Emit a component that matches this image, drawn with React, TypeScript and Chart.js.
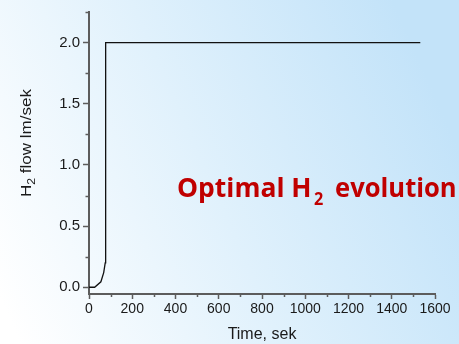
import React, { useEffect, useRef } from 'react';
import { Chart, registerables } from 'chart.js';

Chart.register(...registerables);

// ---- data ----
const timeSec = [0, 26, 55, 68, 75, 77, 1532];
const h2Flow = [0, 0, 0.045, 0.12, 0.2, 2.0, 2.0];

const xMajorTicks = [0, 200, 400, 600, 800, 1000, 1200, 1400, 1600];
const xMinorTicks = [100, 300, 500, 700, 900, 1100, 1300, 1500];
const yMajorTicks = [0, 0.5, 1.0, 1.5, 2.0];
const yMinorTicks = [0.25, 0.75, 1.25, 1.75, 2.25];

const X_MIN = 0;
const X_MAX = 1600;
const Y_MIN = -0.055;
const Y_MAX = 2.25;

const xTitle = 'Time, sek';
const yTitleParts = ['H', '2', ' flow lm/sek'];
const noteParts = ['Optimal H', '2', 'evolution'];

const AXIS = '#5c5c5c';
const TEXT = '#1a1a1a';
const NOTE = '#c00000';
const SANS = '"Liberation Sans", Arial, sans-serif';
const NOTE_FONT = '"Open Sans", "Noto Sans", sans-serif';

const isIn = (arr: number[], v: number) => arr.some((a) => Math.abs(a - v) < 1e-6);

function drawFitted(ctx: CanvasRenderingContext2D, text: string, left: number, right: number, baseline: number, font: string) {
  ctx.font = font;
  const m = ctx.measureText(text);
  const w = m.actualBoundingBoxLeft + m.actualBoundingBoxRight;
  const sx = (right - left) / w;
  ctx.save();
  ctx.translate(left, baseline);
  ctx.scale(sx, 1);
  ctx.textAlign = 'left';
  ctx.textBaseline = 'alphabetic';
  ctx.fillText(text, m.actualBoundingBoxLeft, 0);
  ctx.restore();
}

const backgroundPlugin = {
  id: 'bg',
  beforeDraw(chart: any) {
    const { ctx, width, height } = chart;
    const g = ctx.createLinearGradient(20, height, width, 150);
    g.addColorStop(0, '#ffffff');
    g.addColorStop(0.5, '#e0f1fc');
    g.addColorStop(1, '#c3e3f9');
    ctx.save();
    ctx.fillStyle = g;
    ctx.fillRect(0, 0, width, height);
    ctx.restore();
  },
};

const extrasPlugin = {
  id: 'extras',
  afterDraw(chart: any) {
    const ctx: CanvasRenderingContext2D = chart.ctx;
    const xs = chart.scales.x;
    const ys = chart.scales.y;
    const { left, bottom } = chart.chartArea;
    ctx.save();
    ctx.strokeStyle = AXIS;
    ctx.lineWidth = 1.5;
    ctx.beginPath();
    xMinorTicks.forEach((v) => {
      const px = Math.round(xs.getPixelForValue(v)) + 0.5;
      ctx.moveTo(px, bottom);
      ctx.lineTo(px, bottom + 3);
    });
    yMinorTicks.forEach((v) => {
      const py = Math.round(ys.getPixelForValue(v)) + 0.5;
      ctx.moveTo(left - 3.5, py);
      ctx.lineTo(left, py);
    });
    ctx.stroke();
    ctx.restore();

    // y axis title (rotated, with subscript)
    ctx.save();
    ctx.fillStyle = TEXT;
    ctx.translate(31, 197);
    ctx.rotate(-Math.PI / 2);
    const mainFont = `14px ${SANS}`;
    const subFont = `10px ${SANS}`;
    ctx.font = mainFont;
    const w0 = ctx.measureText(yTitleParts[0]).width;
    ctx.font = subFont;
    const w1 = ctx.measureText(yTitleParts[1]).width;
    ctx.font = mainFont;
    const w2 = ctx.measureText(yTitleParts[2]).width;
    const sx = 108 / (w0 + w1 + w2);
    ctx.scale(sx, 1);
    ctx.textAlign = 'left';
    ctx.textBaseline = 'alphabetic';
    ctx.font = mainFont;
    ctx.fillText(yTitleParts[0], 0, 0);
    ctx.font = subFont;
    ctx.fillText(yTitleParts[1], w0, 4);
    ctx.font = mainFont;
    ctx.fillText(yTitleParts[2], w0 + w1, 0);
    ctx.restore();

    // annotation
    ctx.save();
    ctx.fillStyle = NOTE;
    drawFitted(ctx, noteParts[0], 178, 310, 197, `bold 27px ${NOTE_FONT}`);
    drawFitted(ctx, noteParts[1], 314, 323, 205, `bold 18px ${NOTE_FONT}`);
    drawFitted(ctx, noteParts[2], 336, 455, 197, `bold 27px ${NOTE_FONT}`);
    ctx.restore();
  },
};

export default function App() {
  const ref = useRef<HTMLCanvasElement>(null);
  useEffect(() => {
    document.body.style.margin = '0';
    const points = timeSec.map((t, i) => ({ x: t, y: h2Flow[i] }));
    const chart = new Chart(ref.current as HTMLCanvasElement, {
      type: 'line',
      data: {
        datasets: [
          {
            data: points,
            borderColor: '#111111',
            borderWidth: 1.3,
            pointRadius: 0,
            tension: 0,
            fill: false,
          },
        ],
      },
      options: {
        animation: false,
        responsive: false,
        events: [],
        layout: { padding: { left: 0, top: 12, right: 24, bottom: 0 } },
        plugins: { legend: { display: false }, tooltip: { enabled: false } },
        scales: {
          x: {
            type: 'linear',
            min: X_MIN,
            max: X_MAX,
            afterBuildTicks: (scale: any) => {
              scale.ticks = xMajorTicks.map((v) => ({ value: v }));
            },
            afterFit: (scale: any) => {
              scale.height = 50;
            },
            ticks: {
              autoSkip: false,
              maxRotation: 0,
              padding: 2,
              color: TEXT,
              font: { family: SANS, size: 14 },
              callback: (v: any) => String(v),
            },
            grid: {
              display: true,
              drawOnChartArea: false,
              drawTicks: true,
              tickLength: 5,
              tickWidth: 1.5,
              tickColor: AXIS,
            },
            border: { display: true, color: AXIS, width: 2 },
            title: {
              display: true,
              text: xTitle,
              color: TEXT,
              font: { family: SANS, size: 16 },
              padding: { top: 0, bottom: 0 },
            },
          },
          y: {
            type: 'linear',
            min: Y_MIN,
            max: Y_MAX,
            afterBuildTicks: (scale: any) => {
              scale.ticks = yMajorTicks.map((v) => ({ value: v }));
            },
            afterFit: (scale: any) => {
              scale.width = 89;
            },
            ticks: {
              autoSkip: false,
              padding: 3,
              color: TEXT,
              font: { family: SANS, size: 15 },
              callback: (v: any) => (isIn(yMajorTicks, Number(v)) ? Number(v).toFixed(1) : ''),
            },
            grid: {
              display: true,
              drawOnChartArea: false,
              drawTicks: true,
              tickLength: 6,
              tickWidth: 1.5,
              tickColor: AXIS,
            },
            border: { display: true, color: AXIS, width: 2 },
          },
        },
      } as any,
      plugins: [backgroundPlugin, extrasPlugin],
    });
    return () => chart.destroy();
  }, []);
  return (
    <div style={{ position: 'absolute', left: 0, top: 0, width: 459, height: 344 }}>
      <canvas ref={ref} width={459} height={344} style={{ display: 'block' }} />
    </div>
  );
}
